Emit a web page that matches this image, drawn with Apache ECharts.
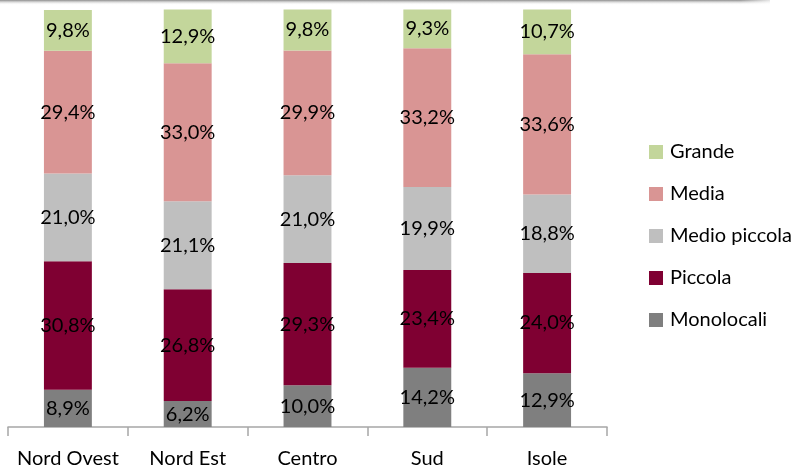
<!DOCTYPE html>
<html>
<head>
<meta charset="utf-8">
<script src="https://cdn.jsdelivr.net/npm/echarts@6/dist/echarts.min.js"></script>
<style>html,body{margin:0;padding:0;background:#fff;}#c{width:796px;height:469px;}</style>
</head>
<body>
<div id="c"></div>
<script>
var categories = ['Nord Ovest', 'Nord Est', 'Centro', 'Sud', 'Isole'];
var monolocali = [8.9, 6.2, 10.0, 14.2, 12.9];
var piccola = [30.8, 26.8, 29.3, 23.4, 24.0];
var medioPiccola = [21.0, 21.1, 21.0, 19.9, 18.8];
var media = [29.4, 33.0, 29.9, 33.2, 33.6];
var grande = [9.8, 12.9, 9.8, 9.3, 10.7];

var FONT = 'Lato';
function mk(name, data, color) {
  return {
    name: name, type: 'bar', stack: 'tot', data: data, barWidth: '40%',
    itemStyle: { color: color },
    label: {
      show: true, position: 'inside', color: '#000', fontFamily: FONT, fontSize: 20,
      formatter: function (p) { return p.value.toFixed(1).replace('.', ',') + '%'; }
    }
  };
}
var chart = echarts.init(document.getElementById('c'));
chart.setOption({
  animation: false,
  backgroundColor: '#fff',
  grid: { left: 8, right: 189, top: 9.5, bottom: 41.5 },
  xAxis: {
    type: 'category', data: categories,
    axisLine: { lineStyle: { color: '#a6a6a6', width: 1.5 } },
    axisTick: { show: true, interval: 0, length: 9, lineStyle: { color: '#a6a6a6', width: 1.5 } },
    axisLabel: { interval: 0, color: '#000', fontFamily: FONT, fontSize: 20, margin: 22 }
  },
  yAxis: { type: 'value', min: 0, max: 100, show: false },
  legend: {
    orient: 'vertical', left: 644, top: 137, itemGap: 22,
    itemWidth: 14, itemHeight: 14, icon: 'rect',
    textStyle: { fontFamily: FONT, fontSize: 20, color: '#000', padding: [0, 0, 0, 2] },
    data: ['Grande', 'Media', 'Medio piccola', 'Piccola', 'Monolocali']
  },
  graphic: [{
    type: 'rect', left: 0, top: 0, shape: { width: 770, height: 5 },
    style: { fill: new echarts.graphic.LinearGradient(0, 0, 0, 1, [
      { offset: 0, color: '#8c8c8c' }, { offset: 1, color: 'rgba(255,255,255,0)' }]) }
  }, {
    type: 'rect', left: 740, top: 0, shape: { width: 40, height: 5 },
    style: { fill: new echarts.graphic.LinearGradient(0, 0, 1, 0, [
      { offset: 0, color: 'rgba(255,255,255,0)' }, { offset: 1, color: '#fff' }]) }
  }],
  series: [
    mk('Monolocali', monolocali, '#7f7f7f'),
    mk('Piccola', piccola, '#7f0032'),
    mk('Medio piccola', medioPiccola, '#bfbfbf'),
    mk('Media', media, '#d99594'),
    mk('Grande', grande, '#c3d69b')
  ]
});
</script>
</body>
</html>
